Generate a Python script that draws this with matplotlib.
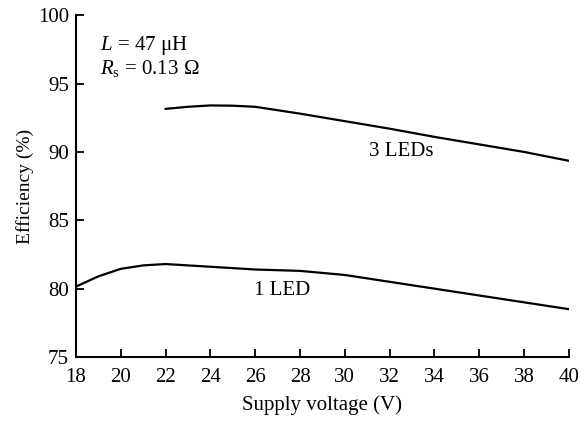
import matplotlib
matplotlib.use("Agg")
import matplotlib.pyplot as plt
import numpy as np

plt.rcParams['font.family'] = ['Liberation Serif', 'DejaVu Serif']
plt.rcParams['mathtext.fontset'] = 'custom'
plt.rcParams['mathtext.it'] = 'Liberation Serif:italic'
plt.rcParams['mathtext.rm'] = 'Liberation Serif'

# Data
v_1led = [18, 19, 20, 21, 22, 24, 26, 28, 30, 32, 34, 36, 38, 40]
eff_1led = [80.15, 80.9, 81.45, 81.7, 81.8, 81.6, 81.4, 81.3, 81.0, 80.5, 80.0, 79.5, 79.0, 78.5]
v_3led = [22, 23, 24, 25, 26, 28, 30, 32, 34, 36, 38, 40]
eff_3led = [93.15, 93.3, 93.4, 93.38, 93.3, 92.8, 92.25, 91.7, 91.1, 90.55, 90.0, 89.35]

xticks = list(range(18, 41, 2))
yticks = [75, 80, 85, 90, 95, 100]

fig = plt.figure(figsize=(5.87, 4.22), dpi=100)
ax = fig.add_axes([0.1295, 0.154, 0.8395, 0.81])

ax.plot(v_1led, eff_1led, color='black', lw=1.6)
ax.plot(v_3led, eff_3led, color='black', lw=1.6)

ax.set_xlim(18, 40)
ax.set_ylim(75, 100)
ax.set_xticks(xticks)
ax.set_yticks(yticks)
ax.tick_params(direction='in', length=6, width=1.3, labelsize=15)
ax.tick_params(axis='x', pad=8)
ax.tick_params(axis='y', pad=5)
for s in ['top', 'right']:
    ax.spines[s].set_visible(False)
for s in ['left', 'bottom']:
    ax.spines[s].set_linewidth(1.5)

ax.set_xlabel('Supply voltage (V)', fontsize=15, labelpad=6)
ax.set_ylabel('Efficiency (%)', fontsize=14, labelpad=3)

ax.text(32.5, 90.0, '3 LEDs', fontsize=15, ha='center', va='center')
ax.text(27.2, 79.9, '1 LED', fontsize=15, ha='center', va='center')
ax.text(19.05, 97.8, r'$L$ = 47 μH', fontsize=15, ha='left', va='center')
ax.text(19.05, 96.1, r'$R_{\rm s}$ = 0.13 Ω', fontsize=15, ha='left', va='center')

fig.savefig('out.png', dpi=100)
